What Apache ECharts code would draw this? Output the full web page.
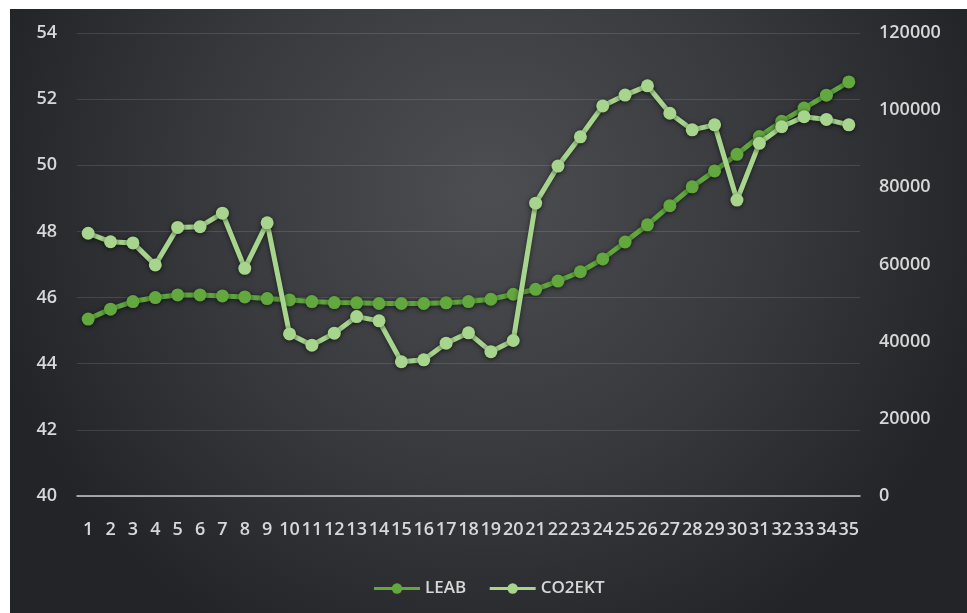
<!DOCTYPE html>
<html>
<head>
<meta charset="utf-8">
<script src="https://cdn.jsdelivr.net/npm/echarts@6/dist/echarts.min.js"></script>
<style>
  html, body { margin: 0; padding: 0; background: #ffffff; width: 967px; height: 613px; overflow: hidden; }
  #chart { position: absolute; left: 10px; top: 9px; width: 957px; height: 604px; }
</style>
</head>
<body>
<div id="chart"></div>
<script>
// Categories 1..35
const categories = ['1','2','3','4','5','6','7','8','9','10','11','12','13','14','15','16','17','18','19','20',
  '21','22','23','24','25','26','27','28','29','30','31','32','33','34','35'];

// LEAB (left axis)
const leab = [45.35, 45.65, 45.88, 46.0, 46.08, 46.08, 46.05, 46.02, 45.97, 45.93,
  45.88, 45.85, 45.84, 45.82, 45.82, 45.82, 45.84, 45.88, 45.95, 46.1,
  46.25, 46.5, 46.78, 47.17, 47.68, 48.2, 48.78, 49.35, 49.83, 50.33,
  50.87, 51.33, 51.73, 52.12, 52.52];

// CO2EKT (right axis)
const co2ekt = [68100, 65900, 65600, 59900, 69600, 69800, 73300, 59000, 70800, 42000,
  39100, 42200, 46500, 45400, 34800, 35300, 39600, 42300, 37400, 40300,
  75900, 85500, 93100, 101100, 103900, 106300, 99200, 94900, 96200, 76700,
  91400, 95700, 98300, 97600, 96200];

const labelColor = '#d6d8d8';
const fontFamily = '"Open Sans", "DejaVu Sans", sans-serif';

const chart = echarts.init(document.getElementById('chart'), null, { renderer: 'canvas' });

function lineSeries(name, data, color, yIndex, z) {
  return {
    name: name,
    type: 'line',
    yAxisIndex: yIndex,
    data: data,
    z: z,
    symbol: 'circle',
    symbolSize: 13,
    lineStyle: {
      color: color, width: 5,
      shadowColor: 'rgba(0,0,0,0.55)', shadowBlur: 5, shadowOffsetY: 1
    },
    itemStyle: {
      color: color, borderColor: color, borderWidth: 0,
      shadowColor: 'rgba(0,0,0,0.6)', shadowBlur: 5, shadowOffsetY: 1
    },
    emphasis: { disabled: true },
    animation: false
  };
}

chart.setOption({
  backgroundColor: {
    type: 'radial', x: 0.5, y: 0.3, r: 0.85,
    colorStops: [
      { offset: 0, color: '#4c4e51' },
      { offset: 0.55, color: '#37393c' },
      { offset: 1, color: '#222427' }
    ]
  },
  grid: { left: 67, right: 107, top: 24, bottom: 117, containLabel: false },
  legend: {
    bottom: 11,
    left: 'center',
    itemWidth: 46,
    itemHeight: 13,
    itemGap: 22,
    textStyle: { color: labelColor, fontFamily: fontFamily, fontSize: 17, fontWeight: 600 },
    lineStyle: { width: 3 },
    data: ['LEAB', 'CO2EKT']
  },
  xAxis: {
    type: 'category',
    data: categories,
    boundaryGap: true,
    axisLine: { lineStyle: { color: '#c8cacb', width: 1.5 } },
    axisTick: { show: false },
    axisLabel: {
      interval: 0, color: labelColor, fontFamily: fontFamily, fontSize: 18,
      margin: 25, fontWeight: 600
    },
    splitLine: { show: false }
  },
  yAxis: [
    {
      type: 'value', min: 40, max: 54, interval: 2, position: 'left',
      axisLine: { show: false }, axisTick: { show: false },
      axisLabel: { color: labelColor, fontFamily: fontFamily, fontSize: 18, margin: 20, fontWeight: 600 },
      splitLine: { lineStyle: { color: 'rgba(255,255,255,0.12)', width: 1 } }
    },
    {
      type: 'value', min: 0, max: 120000, interval: 20000, position: 'right',
      axisLine: { show: false }, axisTick: { show: false },
      axisLabel: {
        color: labelColor, fontFamily: fontFamily, fontSize: 18, margin: 19, fontWeight: 600,
        formatter: function (v) { return String(v); }
      },
      splitLine: { show: false }
    }
  ],
  series: [
    lineSeries('LEAB', leab, '#62a83f', 0, 2),
    lineSeries('CO2EKT', co2ekt, '#a7d58d', 1, 3)
  ]
});
</script>
</body>
</html>
